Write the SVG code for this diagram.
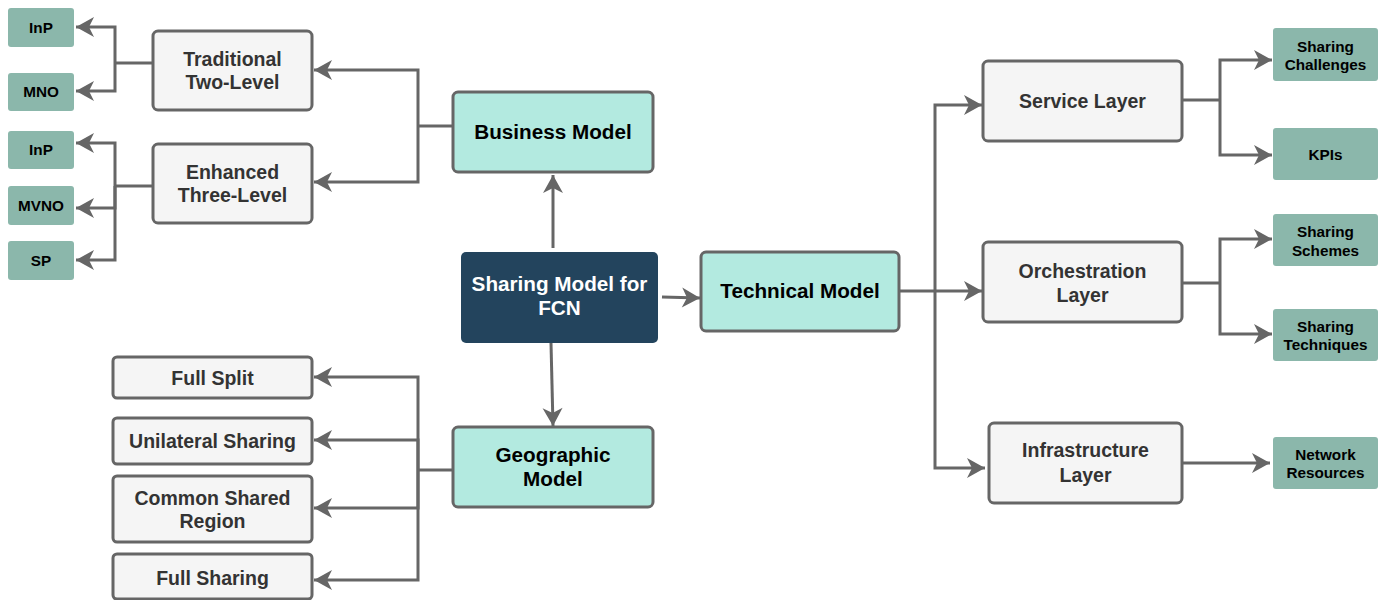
<svg xmlns="http://www.w3.org/2000/svg" width="1382" height="600" viewBox="0 0 1382 600">
<style>
text{font-family:"Liberation Sans",Arial,Helvetica,sans-serif;font-weight:bold;text-anchor:middle}
.g rect{fill:#f5f5f5;stroke:#666666;stroke-width:3}
.g text{fill:#333333;font-size:19.5px}
.t rect{fill:#b3eae0;stroke:#666666;stroke-width:3}
.t text{fill:#000000;font-size:20.7px}
.s rect{fill:#8bb7ab;stroke:none}
.s text{fill:#000000;font-size:15.3px}
.c rect{fill:#23445d;stroke:none}
.c text{fill:#ffffff;font-size:20.7px}
.e path{fill:none;stroke:#666666;stroke-width:3}
.e path.a{marker-end:url(#arr)}
</style>
<defs>
<marker id="arr" markerUnits="userSpaceOnUse" markerWidth="20" markerHeight="22" refX="18" refY="10" orient="auto" overflow="visible">
<path d="M0,0 L18,10 L0,20 L5,10 Z" fill="#666666"/>
</marker>
</defs>

<g id="connectors" class="e">
<path d="M153,63 L115,63"/>
<path class="a" d="M115,63 L115,27 L76,27"/>
<path class="a" d="M115,63 L115,91 L76,91"/>
<path d="M153,186 L115,186"/>
<path class="a" d="M115,186 L115,143 L76,143"/>
<path class="a" d="M115,186 L115,208 L76,208"/>
<path class="a" d="M115,186 L115,260 L76,260"/>
<path d="M453,126 L418,126"/>
<path class="a" d="M418,126 L418,70 L314,70"/>
<path class="a" d="M418,126 L418,182 L314,182"/>
<path class="a" d="M553,248 L553,175"/>
<path class="a" d="M662,297 L700,298"/>
<path class="a" d="M551,343 L553,426"/>
<path d="M453,470 L418,470"/>
<path class="a" d="M418,470 L418,377 L314,377"/>
<path class="a" d="M418,470 L418,440 L314,440"/>
<path class="a" d="M418,470 L418,508 L314,508"/>
<path class="a" d="M418,470 L418,580 L314,580"/>
<path d="M899,291 L935,291"/>
<path class="a" d="M935,291 L935,105 L982,105"/>
<path class="a" d="M935,291 L982,291"/>
<path class="a" d="M935,291 L935,468 L985,468"/>
<path d="M1182,100 L1220,100"/>
<path class="a" d="M1220,100 L1220,60 L1272,60"/>
<path class="a" d="M1220,100 L1220,155 L1272,155"/>
<path d="M1182,283 L1220,283"/>
<path class="a" d="M1220,283 L1220,239 L1272,239"/>
<path class="a" d="M1220,283 L1220,334 L1272,334"/>
<path class="a" d="M1182,463 L1270,463"/>
</g>

<g id="inp1" class="s"><rect x="8" y="8" width="66" height="39" rx="3"/><text x="41" y="33">InP</text></g>
<g id="mno" class="s"><rect x="8" y="73" width="66" height="38" rx="3"/><text x="41" y="97">MNO</text></g>
<g id="inp2" class="s"><rect x="8" y="131" width="66" height="38" rx="3"/><text x="41" y="155">InP</text></g>
<g id="mvno" class="s"><rect x="8" y="186" width="66" height="39" rx="3"/><text x="41" y="211">MVNO</text></g>
<g id="sp" class="s"><rect x="8" y="241" width="66" height="39" rx="3"/><text x="41" y="266">SP</text></g>

<g id="traditional" class="g"><rect x="153" y="31" width="159" height="79" rx="5"/><text x="232.5" y="66">Traditional</text><text x="232.5" y="89">Two-Level</text></g>
<g id="enhanced" class="g"><rect x="153" y="144" width="159" height="79" rx="5"/><text x="232.5" y="179">Enhanced</text><text x="232.5" y="202">Three-Level</text></g>

<g id="business" class="t"><rect x="453" y="92" width="200" height="80" rx="5"/><text x="553" y="139">Business Model</text></g>
<g id="center" class="c"><rect x="461" y="252" width="197" height="91" rx="5"/><text x="559.5" y="291">Sharing Model for</text><text x="559.5" y="315">FCN</text></g>
<g id="technical" class="t"><rect x="701" y="252" width="198" height="79" rx="5"/><text x="800" y="298">Technical Model</text></g>
<g id="geographic" class="t"><rect x="453" y="427" width="200" height="80" rx="5"/><text x="553" y="462">Geographic</text><text x="553" y="486">Model</text></g>

<g id="fullsplit" class="g"><rect x="113" y="357" width="199" height="41" rx="4"/><text x="212.5" y="385">Full Split</text></g>
<g id="unilateral" class="g"><rect x="113" y="418" width="199" height="46" rx="4"/><text x="212.5" y="448">Unilateral Sharing</text></g>
<g id="common" class="g"><rect x="113" y="476" width="199" height="66" rx="4"/><text x="212.5" y="505">Common Shared</text><text x="212.5" y="528">Region</text></g>
<g id="fullsharing" class="g"><rect x="113" y="554" width="199" height="45" rx="4"/><text x="212.5" y="585">Full Sharing</text></g>

<g id="service" class="g"><rect x="983" y="61" width="199" height="80" rx="5"/><text x="1082.5" y="108">Service Layer</text></g>
<g id="orchestration" class="g"><rect x="983" y="242" width="199" height="80" rx="5"/><text x="1082.5" y="278">Orchestration</text><text x="1082.5" y="302">Layer</text></g>
<g id="infrastructure" class="g"><rect x="989" y="423" width="193" height="80" rx="5"/><text x="1085.5" y="457">Infrastructure</text><text x="1085.5" y="482">Layer</text></g>

<g id="challenges" class="s"><rect x="1273" y="28" width="105" height="53" rx="3"/><text x="1325.5" y="52">Sharing</text><text x="1325.5" y="70">Challenges</text></g>
<g id="kpis" class="s"><rect x="1273" y="128" width="105" height="52" rx="3"/><text x="1325.5" y="160">KPIs</text></g>
<g id="schemes" class="s"><rect x="1273" y="214" width="105" height="52" rx="3"/><text x="1325.5" y="237">Sharing</text><text x="1325.5" y="256">Schemes</text></g>
<g id="techniques" class="s"><rect x="1273" y="309" width="105" height="52" rx="3"/><text x="1325.5" y="332">Sharing</text><text x="1325.5" y="350">Techniques</text></g>
<g id="resources" class="s"><rect x="1273" y="437" width="105" height="52" rx="3"/><text x="1325.5" y="460">Network</text><text x="1325.5" y="478">Resources</text></g>
</svg>
